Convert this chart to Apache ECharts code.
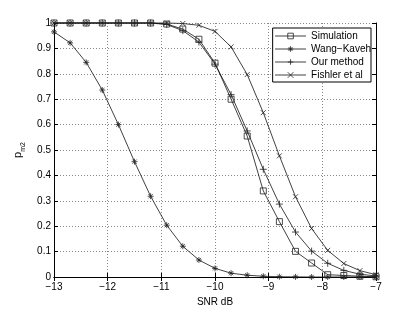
<!DOCTYPE html>
<html>
<head>
<meta charset="utf-8">
<script src="https://cdn.jsdelivr.net/npm/echarts@6/dist/echarts.min.js"></script>
<style>html,body{margin:0;padding:0;background:#fff;}#c{width:415px;height:312px;}</style>
</head>
<body>
<div id="c"></div>
<script>
// SNR values (dB)
const snr = [-13, -12.7, -12.4, -12.1, -11.8, -11.5, -11.2, -10.9, -10.6, -10.3, -10.0, -9.7, -9.4, -9.1, -8.8, -8.5, -8.2, -7.9, -7.6, -7.3, -7.0];
const seriesNames = ['Simulation', 'Wang\u2212Kaveh', 'Our method', 'Fishler et al'];
const simulation = [1, 1, 1, 1, 1, 1, 1, 0.996, 0.976, 0.936, 0.842, 0.700, 0.555, 0.339, 0.218, 0.101, 0.055, 0.009, 0.006, 0.003, 0.001];
const wangKaveh = [0.965, 0.922, 0.845, 0.736, 0.600, 0.454, 0.318, 0.204, 0.121, 0.067, 0.034, 0.015, 0.007, 0.003, 0.001, 0.0005, 0, 0, 0, 0, 0];
const ourMethod = [1, 1, 1, 1, 1, 1, 1, 0.994, 0.970, 0.925, 0.838, 0.718, 0.575, 0.424, 0.287, 0.177, 0.102, 0.054, 0.026, 0.011, 0.004];
const fishler = [1, 1, 1, 1, 1, 1, 1, 1, 0.998, 0.991, 0.967, 0.906, 0.797, 0.647, 0.477, 0.316, 0.191, 0.105, 0.053, 0.025, 0.009];
const xTicks = [-13, -12, -11, -10, -9, -8, -7];
const yTicks = [0, 0.1, 0.2, 0.3, 0.4, 0.5, 0.6, 0.7, 0.8, 0.9, 1];

const FONT = 'Liberation Sans, Arial, Helvetica, sans-serif';
const symSquare = 'path://M0,0L10,0L10,10L0,10Z';
const symPlus = 'path://M0,5L10,5M5,0L5,10';
const symX = 'path://M0,0L10,10M0,10L10,0';
const symStar = 'path://M0,5L10,5M5,0L5,10M1.5,1.5L8.5,8.5M1.5,8.5L8.5,1.5';

function pairs(ys) { return snr.map((x, i) => [x, ys[i]]); }
function mk(name, ys, symbol, size) {
  return {
    name: name, type: 'line', data: pairs(ys), symbol: symbol, symbolSize: size,
    showAllSymbol: true, clip: false, animation: false,
    lineStyle: { color: '#111', width: 0.8 },
    itemStyle: { color: 'rgba(0,0,0,0)', borderColor: '#222', borderWidth: 0.8 },
    emphasis: { disabled: true }
  };
}
function fmtX(v) { return v < 0 ? '\u2212' + Math.abs(v) : String(v); }

const chart = echarts.init(document.getElementById('c'), null, { renderer: 'canvas' });
const axisLine = { show: true, lineStyle: { color: '#000', width: 1 } };
const tick = { show: true, inside: true, length: 4, lineStyle: { color: '#000', width: 1 } };
const split = { show: true, lineStyle: { color: '#888', width: 1, type: [1, 2] } };
chart.setOption({
  animation: false,
  backgroundColor: '#fff',
  textStyle: { fontFamily: FONT },
  grid: { left: 54, top: 23, width: 322, height: 254, containLabel: false },
  xAxis: [
    {
      type: 'value', min: xTicks[0], max: xTicks[xTicks.length - 1], interval: 1,
      position: 'bottom', axisLine: axisLine, axisTick: tick, splitLine: split,
      axisLabel: { formatter: fmtX, fontSize: 10, color: '#000', margin: 5, fontFamily: FONT },
      name: 'SNR dB', nameLocation: 'middle', nameGap: 15,
      nameTextStyle: { fontSize: 10, color: '#000', fontFamily: FONT }
    },
    {
      type: 'value', min: xTicks[0], max: xTicks[xTicks.length - 1], interval: 1,
      position: 'top', axisLine: axisLine, axisTick: tick, splitLine: { show: false },
      axisLabel: { show: false }
    }
  ],
  yAxis: [
    {
      type: 'value', min: yTicks[0], max: yTicks[yTicks.length - 1], interval: 0.1,
      position: 'left', axisLine: axisLine, axisTick: tick, splitLine: split,
      axisLabel: { fontSize: 10, color: '#000', margin: 3, fontFamily: FONT,
        formatter: v => String(Math.round(v * 10) / 10) },
      name: '{p|p}{s|m2}', nameLocation: 'middle', nameGap: 14, nameRotate: 90,
      nameTextStyle: {
        fontFamily: FONT, color: '#000',
        rich: {
          p: { fontSize: 11, fontFamily: FONT, color: '#000', lineHeight: 12, verticalAlign: 'bottom' },
          s: { fontSize: 7, fontFamily: FONT, color: '#000', lineHeight: 12, verticalAlign: 'bottom', padding: [0, 0, -3, 0] }
        }
      }
    },
    {
      type: 'value', min: yTicks[0], max: yTicks[yTicks.length - 1], interval: 0.1,
      position: 'right', axisLine: axisLine, axisTick: tick, splitLine: { show: false },
      axisLabel: { show: false }
    }
  ],
  legend: {
    orient: 'vertical', right: 44, top: 28,
    data: seriesNames,
    itemWidth: 31, itemHeight: 7, itemGap: 3,
    padding: [3, 0, 2, 2],
    backgroundColor: '#fff', borderColor: '#000', borderWidth: 1, borderRadius: 0,
    textStyle: { fontSize: 10, color: '#000', fontFamily: FONT },
    lineStyle: { width: 0.8, color: '#111' },
    itemStyle: { color: 'rgba(0,0,0,0)', borderColor: '#222', borderWidth: 0.8 },
    selectedMode: false
  },
  series: [
    mk(seriesNames[0], simulation, symSquare, 6),
    mk(seriesNames[1], wangKaveh, symStar, 6),
    mk(seriesNames[2], ourMethod, symPlus, 7),
    mk(seriesNames[3], fishler, symX, 5)
  ]
});
</script>
</body>
</html>
